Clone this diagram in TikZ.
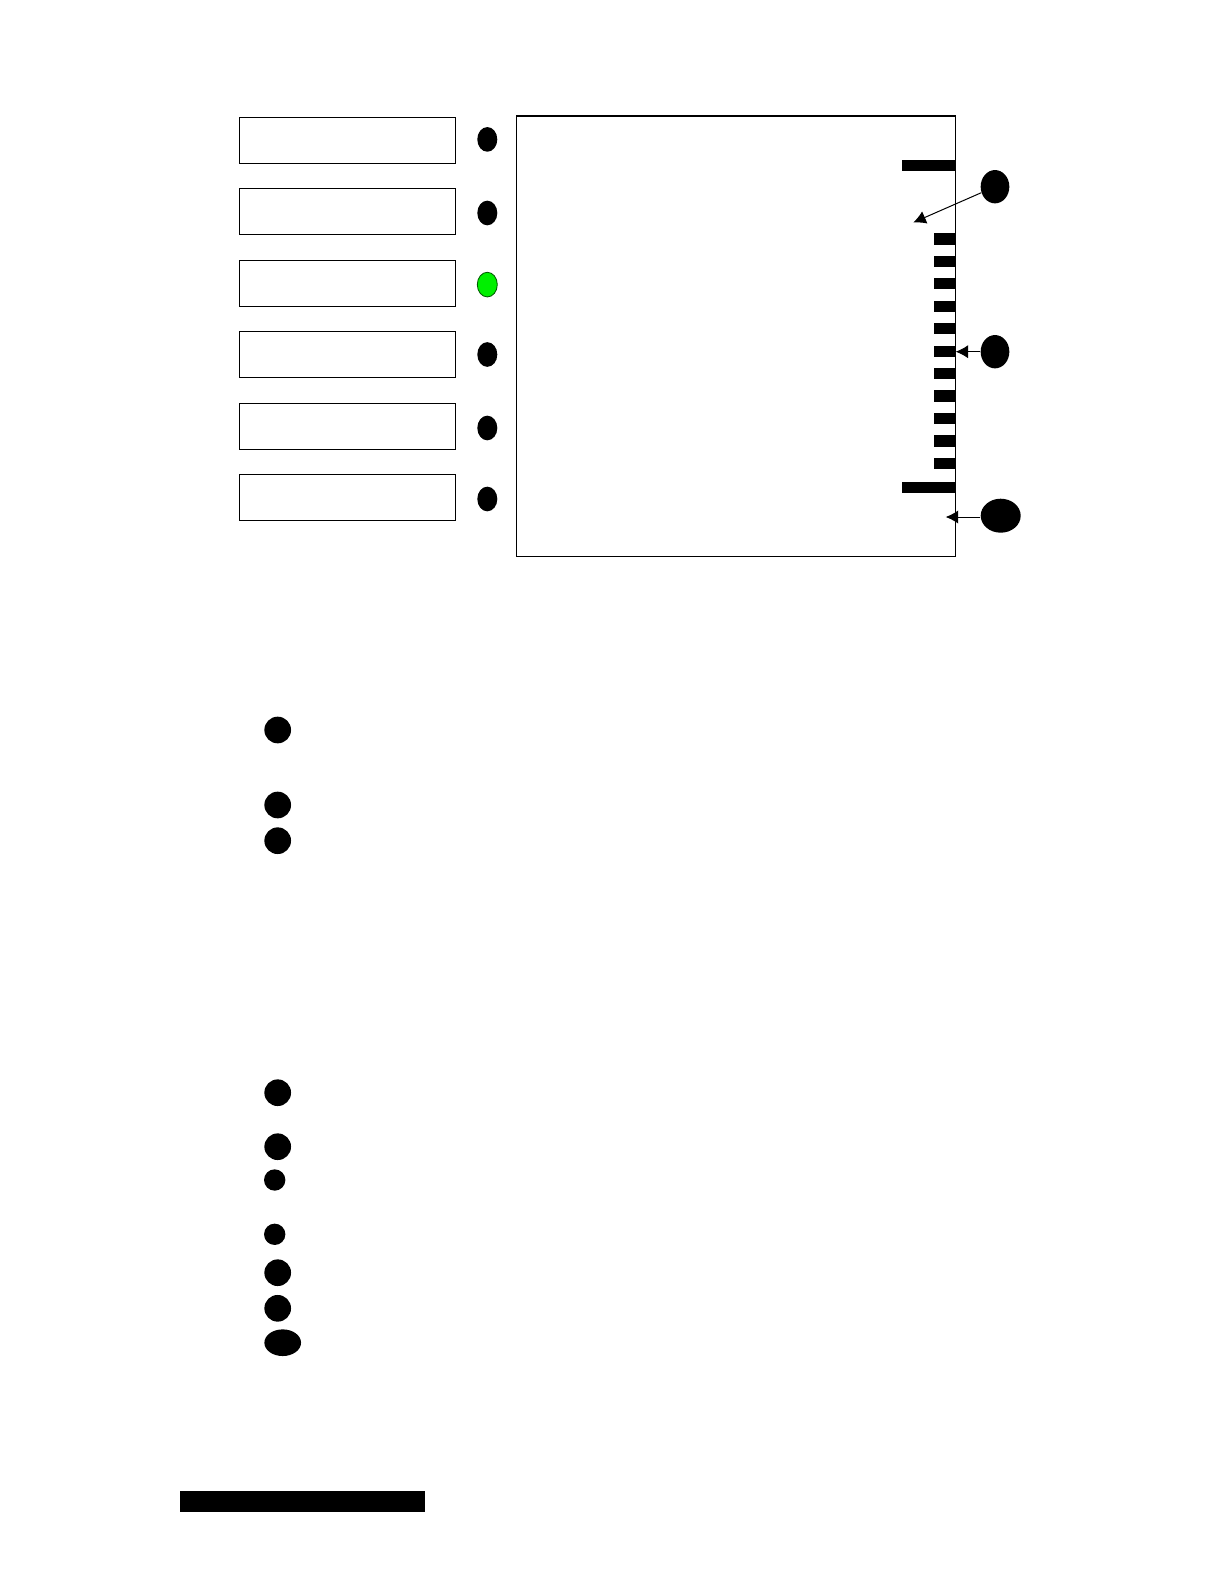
\documentclass[tikz,border=0pt]{standalone}
\usetikzlibrary{shapes.geometric,arrows.meta}
\definecolor{ledgreen}{RGB}{0,240,0}
\definecolor{ledline}{RGB}{0,90,0}
\begin{document}
\begin{tikzpicture}[x=0.6pt,y=-0.6pt,
  panel/.style={draw=black,line width=0.7pt,inner sep=0pt,minimum width=129.8pt,minimum height=27.6pt},
  led/.style={ellipse,fill=black,inner sep=0pt,minimum width=12pt,minimum height=14.8pt},
  greenled/.style={ellipse,fill=ledgreen,draw=ledline,line width=0.5pt,inner sep=0pt,minimum width=12pt,minimum height=14.8pt},
  callout/.style={ellipse,fill=black,inner sep=0pt,minimum width=17.2pt,minimum height=20pt},
  bullet/.style={circle,fill=black,inner sep=0pt,minimum size=16pt},
  smallbullet/.style={circle,fill=black,inner sep=0pt,minimum size=12.8pt},
  pointer/.style={line width=0.6pt,-{Latex[length=7.5pt,width=8pt]}},
  bar/.style={fill=black}]
\useasboundingbox (0,0) rectangle (1224,1584);
% left panels
\node[panel] (p1) at (347.5,140.3) {};
\node[panel] (p2) at (347.5,211.8) {};
\node[panel] (p3) at (347.5,283.3) {};
\node[panel] (p4) at (347.5,354.8) {};
\node[panel] (p5) at (347.5,426.3) {};
\node[panel] (p6) at (347.5,497.8) {};
% LEDs
\node[led] (l1) at (487.3,139.4) {};
\node[led] (l2) at (487.3,213) {};
\node[greenled] (l3) at (487.3,284.6) {};
\node[led] (l4) at (487.3,354.5) {};
\node[led] (l5) at (487.3,428) {};
\node[led] (l6) at (487.3,499) {};
% main frame
\draw[line width=0.7pt] (516.3,116) rectangle (955.7,556.7);
% top and bottom thick bars
\fill[bar] (902,160) rectangle (955.7,171);
\fill[bar] (902,482.3) rectangle (955.7,493);
% ticks
\foreach \i in {0,...,10}{
  \fill[bar] (934,233.3+22.44*\i) rectangle (955.7,244.6+22.44*\i);
}
% callouts
\node[callout] (c1) at (995,186.7) {};
\node[callout] (c2) at (995,351.7) {};
\node[ellipse,fill=black,inner sep=0pt,minimum width=24pt,minimum height=20.4pt] (c3) at (1000.7,515.7) {};
\coordinate (t1) at (913.3,222.5);
\coordinate (t2) at (955.7,351.7);
\coordinate (t3) at (945.7,517);
\draw[pointer] (c1) -- (t1);
\draw[pointer] (c2) -- (t2);
\draw[pointer] (c3.west |- t3) -- (t3);
% lower bullets
\node[bullet] (b1) at (277.7,730) {};
\node[bullet] (b2) at (277.7,805) {};
\node[bullet] (b3) at (277.7,840.7) {};
\node[bullet] (b4) at (277.7,1092.7) {};
\node[bullet] (b5) at (277.7,1146.7) {};
\node[smallbullet] (b6) at (274.7,1180) {};
\node[smallbullet] (b7) at (274.7,1234.3) {};
\node[bullet] (b8) at (277.7,1272.7) {};
\node[bullet] (b9) at (277.7,1308.3) {};
\node[ellipse,fill=black,inner sep=0pt,minimum width=22pt,minimum height=16pt] (b10) at (282.7,1342.7) {};
% bottom bar
\fill[bar] (180,1491) rectangle (425,1511.7);
\end{tikzpicture}
\end{document}
